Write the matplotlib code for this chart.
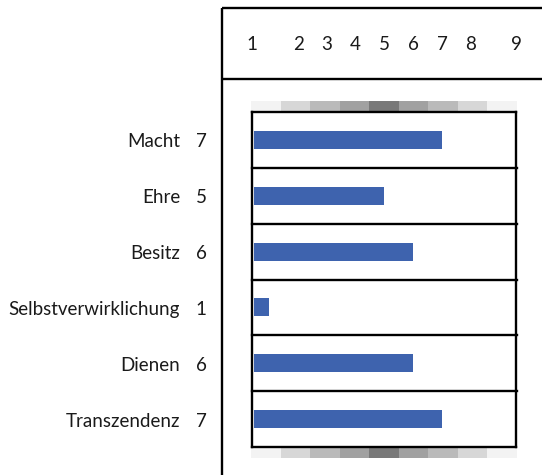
import matplotlib
matplotlib.use("Agg")
import matplotlib.pyplot as plt
from matplotlib.transforms import blended_transform_factory, ScaledTranslation
import numpy as np

# ---- data ----
categories = ["Macht", "Ehre", "Besitz", "Selbstverwirklichung", "Dienen", "Transzendenz"]
values = [7, 5, 6, 1, 6, 7]
scale_labels = ["1", "2", "3", "4", "5", "6", "7", "8", "9"]
scale_inner_ticks = [2, 3, 4, 5, 6, 7, 8]
gradient_greys = [0.950, 0.840, 0.730, 0.630, 0.478, 0.630, 0.730, 0.840, 0.950]

# ---- style ----
W, H = 542, 475
FONT = ["Lato", "DejaVu Sans"]
FS = 13.5
BAR_COLOR = "#3E63AE"
LW = 1.7
XLIM = (0.40, 9.57)
TXT = "#1a1a1a"

fig = plt.figure(figsize=(W / 100, H / 100), dpi=100)
plt.rcParams["font.family"] = FONT
shift = ScaledTranslation(0, -0.02, fig.dpi_scale_trans)

# background pixel axes for decoration
bg = fig.add_axes([0, 0, 1, 1])
bg.set_xlim(0, W)
bg.set_ylim(H, 0)
bg.axis("off")

# main bar axes
L, R, T, B = 252, 516, 112, 447
ax = fig.add_axes([L / W, 1 - B / H, (R - L) / W, (B - T) / H])
n = len(categories)
y = np.arange(n)
ax.set_ylim(n - 0.5, -0.5)
ax.set_xlim(*XLIM)
left0 = XLIM[0] + 0.07
ax.barh(y, [v - left0 for v in values], left=left0, height=0.32,
        color=BAR_COLOR, zorder=2)
for s in ax.spines.values():
    s.set_linewidth(LW)
    s.set_color("black")
for k in range(1, n):
    ax.axhline(k - 0.5, color="black", lw=LW, clip_on=False, xmax=1.005)
ax.set_xticks([])
ax.set_yticks([])
ax.patch.set_alpha(0)

# outer frame lines
bg.plot([221.5, 221.5], [8, H], color="black", lw=LW, solid_capstyle="butt")
bg.plot([221.5, W], [8, 8], color="black", lw=LW, solid_capstyle="butt")
bg.plot([221.5, W], [79, 79], color="black", lw=LW, solid_capstyle="butt")

# gradient strips
grad = np.array(gradient_greys)[None, :]
for (y0, y1) in [(101, 111), (448, 458)]:
    bg.imshow(grad, cmap="gray", vmin=0, vmax=1, aspect="auto",
              extent=(251, 517, y1, y0), interpolation="nearest")
bg.set_xlim(0, W)
bg.set_ylim(H, 0)

# scale labels at top
tr_top = blended_transform_factory(ax.transData, bg.transData) + shift
positions = [XLIM[0]] + scale_inner_ticks + [XLIM[1]]
for p, lab in zip(positions, scale_labels):
    bg.text(p, 43, lab, transform=tr_top, ha="center", va="center",
            fontsize=FS, color=TXT)

# row labels
tr_row = blended_transform_factory(bg.transData, ax.transData) + shift
for i, (c, v) in enumerate(zip(categories, values)):
    bg.text(180, i, c, transform=tr_row, ha="right", va="center",
            fontsize=FS, color=TXT)
    bg.text(201, i, str(v), transform=tr_row, ha="center", va="center",
            fontsize=FS, color=TXT)

fig.savefig("out.png", dpi=100)
